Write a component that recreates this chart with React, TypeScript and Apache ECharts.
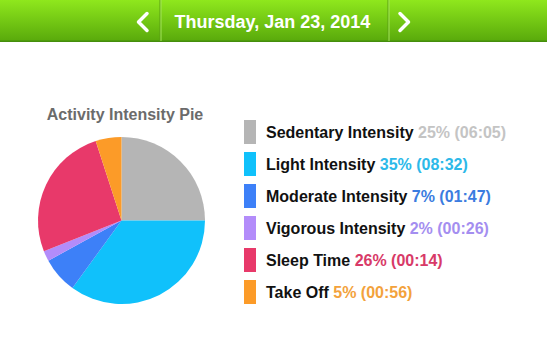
import React, { useEffect, useRef } from "react";
import * as echarts from "echarts";

const categories = ["Sedentary Intensity", "Light Intensity", "Moderate Intensity", "Vigorous Intensity", "Sleep Time", "Take Off"];
const percents = [25, 35, 7, 2, 26, 5];
const durations = ["06:05", "08:32", "01:47", "00:26", "00:14", "00:56"];
const sliceColors = ["#b5b5b5", "#10c1fb", "#3d80f8", "#b38cfa", "#e8396a", "#fc9b28"];
const valueColors = ["#c4c4c4", "#2cb9e9", "#3b7ce0", "#a48ef0", "#d83a68", "#f3a23c"];
const dateLabel = "Thursday, Jan 23, 2014";
const chartTitle = "Activity Intensity Pie";

const FONT = "'Liberation Sans', Arial, sans-serif";

export default function App() {
  const ref = useRef<HTMLDivElement>(null);
  useEffect(() => {
    if (!ref.current) return;
    const chart = echarts.init(ref.current, null, { renderer: "svg" });
    const rich: Record<string, any> = {
      n: { fontFamily: FONT, fontSize: 16, fontWeight: "bold", color: "#111111", padding: [0, 0, 0, 5] },
    };
    valueColors.forEach((c, i) => {
      rich["v" + i] = { fontFamily: FONT, fontSize: 16, fontWeight: "bold", color: c };
    });
    chart.setOption({
      animation: false,
      backgroundColor: "#ffffff",
      legend: {
        orient: "vertical",
        left: 244,
        top: 120,
        padding: 0,
        itemWidth: 12,
        itemHeight: 24,
        itemGap: 8,
        icon: "rect",
        selectedMode: false,
        data: categories,
        formatter: (name: string) => {
          const i = categories.indexOf(name);
          return `{n|${name}} {v${i}|${percents[i]}% (${durations[i]})}`;
        },
        textStyle: { fontFamily: FONT, fontSize: 16, rich },
      },
      series: [
        {
          type: "pie",
          center: [121.5, 220.5],
          radius: 83.5,
          startAngle: 90,
          clockwise: true,
          silent: true,
          label: { show: false },
          labelLine: { show: false },
          itemStyle: { borderWidth: 0 },
          data: categories.map((name, i) => ({
            name,
            value: percents[i],
            itemStyle: { color: sliceColors[i] },
          })),
        },
      ],
      graphic: [
        {
          type: "rect",
          silent: true,
          shape: { x: 0, y: 0, width: 547, height: 42 },
          style: {
            fill: new echarts.graphic.LinearGradient(0, 0, 0, 1, [
              { offset: 0, color: "#8fe71d" },
              { offset: 1, color: "#58a80b" },
            ]),
          },
        },
        { type: "rect", silent: true, shape: { x: 0, y: 40.5, width: 547, height: 1.5 }, style: { fill: "#458e0c" } },
        { type: "line", silent: true, shape: { x1: 160, y1: 0, x2: 160, y2: 41 }, style: { stroke: "#5a9f12", lineWidth: 1 } },
        { type: "line", silent: true, shape: { x1: 161, y1: 0, x2: 161, y2: 41 }, style: { stroke: "#a3e35a", lineWidth: 1 } },
        { type: "line", silent: true, shape: { x1: 388, y1: 0, x2: 388, y2: 41 }, style: { stroke: "#5a9f12", lineWidth: 1 } },
        { type: "line", silent: true, shape: { x1: 389, y1: 0, x2: 389, y2: 41 }, style: { stroke: "#a3e35a", lineWidth: 1 } },
        {
          type: "polyline",
          silent: true,
          shape: { points: [[147, 13.5], [138.5, 22], [147, 30.5]] },
          style: { stroke: "#ffffff", lineWidth: 3.5, lineCap: "round", lineJoin: "round", fill: null },
        },
        {
          type: "polyline",
          silent: true,
          shape: { points: [[400, 13.5], [408.5, 22], [400, 30.5]] },
          style: { stroke: "#ffffff", lineWidth: 3.5, lineCap: "round", lineJoin: "round", fill: null },
        },
        {
          type: "text",
          silent: true,
          x: 272.5,
          y: 21.5,
          style: {
            text: dateLabel,
            fill: "#ffffff",
            font: `bold 18px ${FONT}`,
            align: "center",
            verticalAlign: "middle",
          },
        },
        {
          type: "text",
          silent: true,
          x: 125,
          y: 114,
          style: {
            text: chartTitle,
            fill: "#6b6b6b",
            font: `bold 16px ${FONT}`,
            align: "center",
            verticalAlign: "middle",
          },
        },
      ],
    });
    return () => chart.dispose();
  }, []);
  return (
    <div
      ref={ref}
      style={{ position: "fixed", left: 0, top: 0, width: 547, height: 355 }}
    />
  );
}
